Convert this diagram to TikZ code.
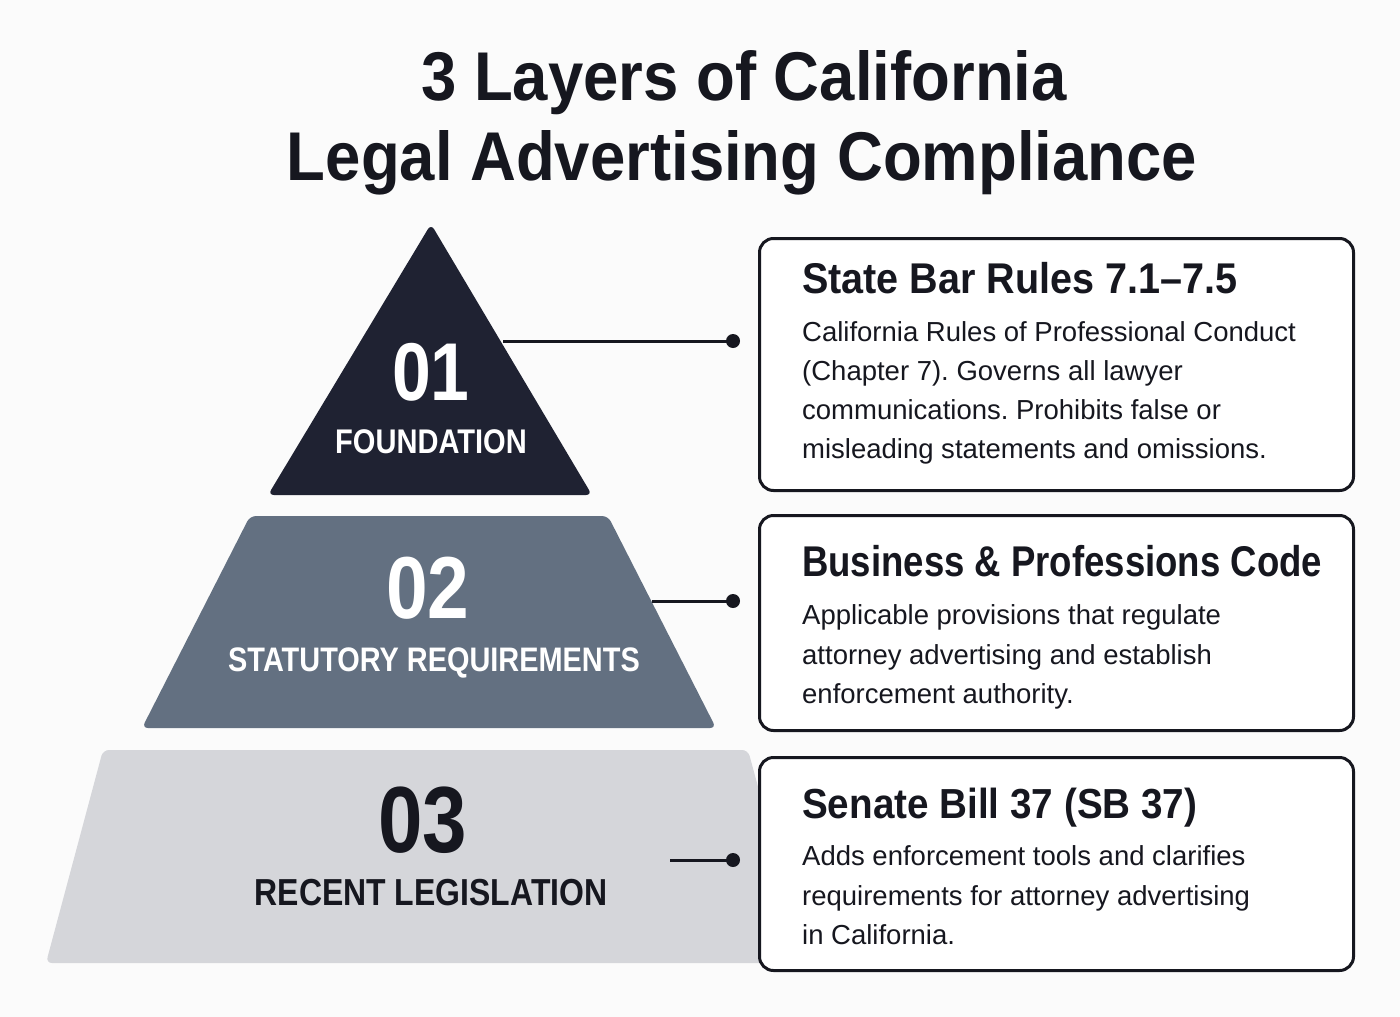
\documentclass[tikz,border=0pt]{standalone}
\usepackage{fontspec}
\setmainfont{Liberation Sans}
\newfontfamily\titlef{Liberation Sans}[FakeStretch=0.92]
\newfontfamily\condf{Liberation Sans}[FakeStretch=0.85]
\frenchspacing
\definecolor{bgc}{HTML}{FBFBFB}
\definecolor{ink}{HTML}{16171F}
\definecolor{navy}{HTML}{1F2232}
\definecolor{slate}{HTML}{637081}
\definecolor{lightg}{HTML}{D5D6DA}
\tikzset{
  titletext/.style={anchor=base, text=ink, inner sep=0pt, font=\titlef\bfseries\fontsize{69}{80}\selectfont},
  numtext/.style={anchor=base, inner sep=0pt, font=\condf\bfseries\fontsize{#1}{#1}\selectfont},
  labtext/.style={anchor=base, inner sep=0pt, font=\condf\bfseries\fontsize{#1}{#1}\selectfont},
  boxtitle/.style={anchor=base west, inner sep=0pt, text=ink, font=\condf\bfseries\fontsize{43}{50}\selectfont},
  boxtitlew/.style={anchor=base west, inner sep=0pt, text=ink, font=\titlef\bfseries\fontsize{#1}{50}\selectfont},
  boxbody/.style={anchor=base west, inner sep=0pt, text=ink, font=\frenchspacing\fontsize{27.5}{39}\selectfont},
  infobox/.style={draw=ink, line width=3pt, rounded corners=14pt, fill=white, anchor=north west, inner sep=0pt},
  dotnode/.style={circle, fill=ink, inner sep=0pt, minimum size=14pt},
  link/.style={draw=ink, line width=3pt},
  layer/.style={rounded corners=6pt}
}
\begin{document}
\begin{tikzpicture}[x=1pt,y=-1pt]
\fill[bgc] (0,0) rectangle (1400,1017);
\useasboundingbox (0,0) rectangle (1400,1017);

% title
\node[titletext] (t1) at (744,100) {3 Layers of California};
\node[titletext] (t2) at (742,180) {Legal Advertising Compliance};

% layers
\fill[navy, layer] (431,224) -- (592,495) -- (268,495) -- cycle;
\fill[slate, layer] (250,516) -- (608,516) -- (716,728) -- (142,728) -- cycle;
\fill[lightg, layer] (103,750) -- (748,750) -- (806,963) -- (46,963) -- cycle;

\node[numtext=82, text=white] (n1) at (431,400) {01};
\node[labtext=34.2, text=white] (l1) at (431,453) {FOUNDATION};
\node[numtext=88, text=white] (n2) at (428,618) {02};
\node[labtext=34, text=white] (l2) at (434,671) {STATUTORY REQUIREMENTS};
\node[numtext=94, text=ink] (n3) at (423,852) {03};
\node[labtext=37.6, text=ink] (l3) at (431,905) {RECENT LEGISLATION};

% connectors
\coordinate (s1) at (503,341);
\coordinate (s2) at (652,601);
\coordinate (s3) at (670,860);
\node[dotnode] (d1) at (733,341) {};
\node[dotnode] (d2) at (733,601) {};
\node[dotnode] (d3) at (733,860) {};
\draw[link] (s1) -- (d1.center);
\draw[link] (s2) -- (d2.center);
\draw[link] (s3) -- (d3.center);

% boxes
\node[infobox, minimum width=594pt, minimum height=252pt] (b1) at (758,237) {};
\node[infobox, minimum width=594pt, minimum height=215pt] (b2) at (758,514) {};
\node[infobox, minimum width=594pt, minimum height=213pt] (b3) at (758,756) {};

\node[boxtitlew=43] (h1) at (802,293) {State Bar Rules 7.1–7.5};
\node[boxbody] (p11) at (802,341) {California Rules of Professional Conduct};
\node[boxbody] (p12) at (802,380) {(Chapter 7). Governs all lawyer};
\node[boxbody] (p13) at (802,419) {communications. Prohibits false or};
\node[boxbody] (p14) at (802,458) {misleading statements and omissions.};

\node[boxtitle] (h2) at (802,576) {Business \& Professions Code};
\node[boxbody] (p21) at (802,624) {Applicable provisions that regulate};
\node[boxbody] (p22) at (802,664) {attorney advertising and establish};
\node[boxbody] (p23) at (802,703) {enforcement authority.};

\node[boxtitlew=42] (h3) at (802,818) {Senate Bill 37 (SB 37)};
\node[boxbody] (p31) at (802,865) {Adds enforcement tools and clarifies};
\node[boxbody] (p32) at (802,905) {requirements for attorney advertising};
\node[boxbody] (p33) at (802,944) {in California.};
\end{tikzpicture}
\end{document}
